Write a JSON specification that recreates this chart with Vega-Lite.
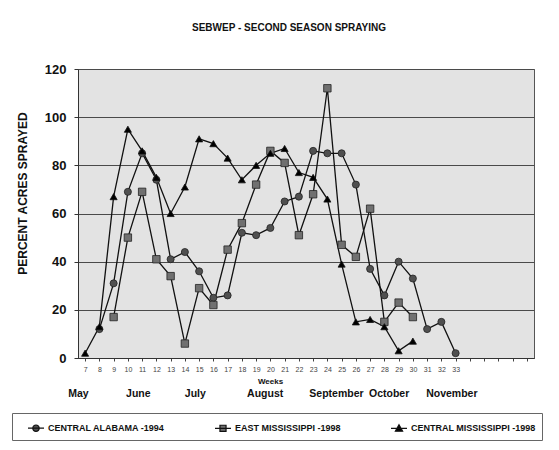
{
  "$schema": "https://vega.github.io/schema/vega-lite/v6.json",
  "autosize": "none",
  "width": 456,
  "height": 289,
  "padding": {"left": 78, "top": 69, "right": 25, "bottom": 92},
  "background": "white",
  "title": {
    "text": "SEBWEP - SECOND SEASON SPRAYING",
    "anchor": "middle",
    "dx": -17,
    "offset": 30,
    "font": "Liberation Sans",
    "fontSize": 10,
    "fontWeight": "bold",
    "color": "#111"
  },
  "config": {
    "view": {"fill": "#e3e3e3", "stroke": "#555", "strokeWidth": 1},
    "font": "Liberation Sans",
    "legend": {
      "orient": "none",
      "legendX": -66,
      "legendY": 344,
      "direction": "horizontal",
      "strokeColor": "#666",
      "fillColor": "white",
      "padding": 6,
      "labelFontSize": 9,
      "labelFontWeight": "bold",
      "labelColor": "#111",
      "labelOffset": 3,
      "columnPadding": 40,
      "symbolSize": 256,
      "symbolOffset": 9,
      "symbolStrokeWidth": 1.2,
      "symbolOpacity": 1
    }
  },
  "datasets": {
    "spray": [
      {"week": 8, "series": "CENTRAL ALABAMA -1994", "value": 12},
      {"week": 9, "series": "CENTRAL ALABAMA -1994", "value": 31},
      {"week": 10, "series": "CENTRAL ALABAMA -1994", "value": 69},
      {"week": 11, "series": "CENTRAL ALABAMA -1994", "value": 85},
      {"week": 12, "series": "CENTRAL ALABAMA -1994", "value": 74},
      {"week": 13, "series": "CENTRAL ALABAMA -1994", "value": 41},
      {"week": 14, "series": "CENTRAL ALABAMA -1994", "value": 44},
      {"week": 15, "series": "CENTRAL ALABAMA -1994", "value": 36},
      {"week": 16, "series": "CENTRAL ALABAMA -1994", "value": 25},
      {"week": 17, "series": "CENTRAL ALABAMA -1994", "value": 26},
      {"week": 18, "series": "CENTRAL ALABAMA -1994", "value": 52},
      {"week": 19, "series": "CENTRAL ALABAMA -1994", "value": 51},
      {"week": 20, "series": "CENTRAL ALABAMA -1994", "value": 54},
      {"week": 21, "series": "CENTRAL ALABAMA -1994", "value": 65},
      {"week": 22, "series": "CENTRAL ALABAMA -1994", "value": 67},
      {"week": 23, "series": "CENTRAL ALABAMA -1994", "value": 86},
      {"week": 24, "series": "CENTRAL ALABAMA -1994", "value": 85},
      {"week": 25, "series": "CENTRAL ALABAMA -1994", "value": 85},
      {"week": 26, "series": "CENTRAL ALABAMA -1994", "value": 72},
      {"week": 27, "series": "CENTRAL ALABAMA -1994", "value": 37},
      {"week": 28, "series": "CENTRAL ALABAMA -1994", "value": 26},
      {"week": 29, "series": "CENTRAL ALABAMA -1994", "value": 40},
      {"week": 30, "series": "CENTRAL ALABAMA -1994", "value": 33},
      {"week": 31, "series": "CENTRAL ALABAMA -1994", "value": 12},
      {"week": 32, "series": "CENTRAL ALABAMA -1994", "value": 15},
      {"week": 33, "series": "CENTRAL ALABAMA -1994", "value": 2},
      {"week": 9, "series": "EAST MISSISSIPPI -1998", "value": 17},
      {"week": 10, "series": "EAST MISSISSIPPI -1998", "value": 50},
      {"week": 11, "series": "EAST MISSISSIPPI -1998", "value": 69},
      {"week": 12, "series": "EAST MISSISSIPPI -1998", "value": 41},
      {"week": 13, "series": "EAST MISSISSIPPI -1998", "value": 34},
      {"week": 14, "series": "EAST MISSISSIPPI -1998", "value": 6},
      {"week": 15, "series": "EAST MISSISSIPPI -1998", "value": 29},
      {"week": 16, "series": "EAST MISSISSIPPI -1998", "value": 22},
      {"week": 17, "series": "EAST MISSISSIPPI -1998", "value": 45},
      {"week": 18, "series": "EAST MISSISSIPPI -1998", "value": 56},
      {"week": 19, "series": "EAST MISSISSIPPI -1998", "value": 72},
      {"week": 20, "series": "EAST MISSISSIPPI -1998", "value": 86},
      {"week": 21, "series": "EAST MISSISSIPPI -1998", "value": 81},
      {"week": 22, "series": "EAST MISSISSIPPI -1998", "value": 51},
      {"week": 23, "series": "EAST MISSISSIPPI -1998", "value": 68},
      {"week": 24, "series": "EAST MISSISSIPPI -1998", "value": 112},
      {"week": 25, "series": "EAST MISSISSIPPI -1998", "value": 47},
      {"week": 26, "series": "EAST MISSISSIPPI -1998", "value": 42},
      {"week": 27, "series": "EAST MISSISSIPPI -1998", "value": 62},
      {"week": 28, "series": "EAST MISSISSIPPI -1998", "value": 15},
      {"week": 29, "series": "EAST MISSISSIPPI -1998", "value": 23},
      {"week": 30, "series": "EAST MISSISSIPPI -1998", "value": 17},
      {"week": 7, "series": "CENTRAL MISSISSIPPI -1998", "value": 2},
      {"week": 8, "series": "CENTRAL MISSISSIPPI -1998", "value": 13},
      {"week": 9, "series": "CENTRAL MISSISSIPPI -1998", "value": 67},
      {"week": 10, "series": "CENTRAL MISSISSIPPI -1998", "value": 95},
      {"week": 11, "series": "CENTRAL MISSISSIPPI -1998", "value": 86},
      {"week": 12, "series": "CENTRAL MISSISSIPPI -1998", "value": 75},
      {"week": 13, "series": "CENTRAL MISSISSIPPI -1998", "value": 60},
      {"week": 14, "series": "CENTRAL MISSISSIPPI -1998", "value": 71},
      {"week": 15, "series": "CENTRAL MISSISSIPPI -1998", "value": 91},
      {"week": 16, "series": "CENTRAL MISSISSIPPI -1998", "value": 89},
      {"week": 17, "series": "CENTRAL MISSISSIPPI -1998", "value": 83},
      {"week": 18, "series": "CENTRAL MISSISSIPPI -1998", "value": 74},
      {"week": 19, "series": "CENTRAL MISSISSIPPI -1998", "value": 80},
      {"week": 20, "series": "CENTRAL MISSISSIPPI -1998", "value": 85},
      {"week": 21, "series": "CENTRAL MISSISSIPPI -1998", "value": 87},
      {"week": 22, "series": "CENTRAL MISSISSIPPI -1998", "value": 77},
      {"week": 23, "series": "CENTRAL MISSISSIPPI -1998", "value": 75},
      {"week": 24, "series": "CENTRAL MISSISSIPPI -1998", "value": 66},
      {"week": 25, "series": "CENTRAL MISSISSIPPI -1998", "value": 39},
      {"week": 26, "series": "CENTRAL MISSISSIPPI -1998", "value": 15},
      {"week": 27, "series": "CENTRAL MISSISSIPPI -1998", "value": 16},
      {"week": 28, "series": "CENTRAL MISSISSIPPI -1998", "value": 13},
      {"week": 29, "series": "CENTRAL MISSISSIPPI -1998", "value": 3},
      {"week": 30, "series": "CENTRAL MISSISSIPPI -1998", "value": 7}
    ],
    "months": [
      {"month": "May", "week": 6.5},
      {"month": "June", "week": 10.7},
      {"month": "July", "week": 14.7},
      {"month": "August", "week": 19.6},
      {"month": "September", "week": 24.6},
      {"month": "October", "week": 28.3},
      {"month": "November", "week": 32.7}
    ]
  },
  "resolve": {"axis": {"x": "independent"}},
  "layer": [
    {
      "data": {"name": "spray"},
      "mark": {"type": "line", "color": "#111", "strokeWidth": 1.3},
      "encoding": {
        "x": {
          "field": "week", "type": "quantitative",
          "scale": {"domain": [6.5, 38.5], "nice": false, "zero": false},
          "axis": {
            "orient": "bottom",
            "values": [7,8,9,10,11,12,13,14,15,16,17,18,19,20,21,22,23,24,25,26,27,28,29,30,31,32,33,34,35,36,37,38],
            "labelExpr": "datum.value <= 33 ? datum.label : ''",
            "labelFontSize": 7,
            "labelColor": "#444",
            "labelPadding": 4,
            "labelOverlap": false,
            "labelFlush": false,
            "tickSize": 3,
            "tickColor": "#444",
            "domainColor": "#333",
            "grid": false,
            "title": "Weeks",
            "titleFontSize": 8,
            "titleFontWeight": "bold",
            "titleColor": "#111",
            "titleX": 192,
            "titleY": 25,
            "titleBaseline": "alphabetic"
          }
        },
        "y": {
          "field": "value", "type": "quantitative",
          "scale": {"domain": [0, 120], "nice": false},
          "axis": {
            "values": [0, 20, 40, 60, 80, 100, 120],
            "grid": true,
            "gridColor": "#4a4a4a",
            "gridWidth": 1,
            "tickSize": 4,
            "tickColor": "#333",
            "domainColor": "#333",
            "labelFontSize": 13,
            "labelFontWeight": "bold",
            "labelColor": "#111",
            "labelPadding": 8,
            "title": "PERCENT ACRES SPRAYED",
            "titleFontSize": 12,
            "titleFontWeight": "bold",
            "titleColor": "#111",
            "titleX": -56,
            "titleY": 124,
            "titleBaseline": "middle"
          }
        },
        "detail": {"field": "series", "type": "nominal"}
      }
    },
    {
      "data": {"name": "spray"},
      "transform": [{"filter": "datum.series == 'CENTRAL ALABAMA -1994'"}],
      "mark": {"type": "point", "shape": "circle", "filled": true, "fill": "#505050", "stroke": "#222", "strokeWidth": 0.8, "opacity": 1, "size": 50},
      "encoding": {
        "x": {"field": "week", "type": "quantitative", "axis": null},
        "y": {"field": "value", "type": "quantitative"}
      }
    },
    {
      "data": {"name": "spray"},
      "transform": [{"filter": "datum.series == 'EAST MISSISSIPPI -1998'"}],
      "mark": {"type": "point", "shape": "square", "filled": true, "fill": "#707070", "stroke": "#222", "strokeWidth": 0.8, "opacity": 1, "size": 55},
      "encoding": {
        "x": {"field": "week", "type": "quantitative", "axis": null},
        "y": {"field": "value", "type": "quantitative"}
      }
    },
    {
      "data": {"name": "spray"},
      "transform": [{"filter": "datum.series == 'CENTRAL MISSISSIPPI -1998'"}],
      "mark": {"type": "point", "shape": "triangle-up", "filled": true, "fill": "#000000", "stroke": "#111", "strokeWidth": 0.8, "opacity": 1, "size": 50},
      "encoding": {
        "x": {"field": "week", "type": "quantitative", "axis": null},
        "y": {"field": "value", "type": "quantitative"}
      }
    },
    {
      "data": {"name": "spray"},
      "mark": {"type": "point", "filled": true, "opacity": 0},
      "encoding": {
        "x": {"field": "week", "type": "quantitative", "axis": null},
        "y": {"field": "value", "type": "quantitative"},
        "shape": {
          "field": "series", "type": "nominal",
          "scale": {
            "domain": ["CENTRAL ALABAMA -1994", "EAST MISSISSIPPI -1998", "CENTRAL MISSISSIPPI -1998"],
            "range": ["M-1,0H1M0.4,0A0.4,0.4,0,1,1,-0.4,0A0.4,0.4,0,1,1,0.4,0Z", "M-1,0H1M-0.38,-0.38H0.38V0.38H-0.38Z", "M-1,0H1M0,-0.45L0.45,0.35H-0.45Z"]
          },
          "legend": {"title": null}
        },
        "color": {
          "field": "series", "type": "nominal",
          "scale": {
            "domain": ["CENTRAL ALABAMA -1994", "EAST MISSISSIPPI -1998", "CENTRAL MISSISSIPPI -1998"],
            "range": ["#505050", "#707070", "#000000"]
          },
          "legend": {"title": null}
        },
        "stroke": {
          "field": "series", "type": "nominal",
          "scale": {
            "domain": ["CENTRAL ALABAMA -1994", "EAST MISSISSIPPI -1998", "CENTRAL MISSISSIPPI -1998"],
            "range": ["#111111", "#111111", "#111111"]
          },
          "legend": {"title": null}
        }
      }
    },
    {
      "data": {"name": "months"},
      "mark": {"type": "point", "opacity": 0},
      "encoding": {
        "x": {
          "field": "week", "type": "quantitative",
          "axis": {
            "orient": "bottom",
            "values": [6.5, 10.7, 14.7, 19.6, 24.6, 28.3, 32.7],
            "labelExpr": "datum.value < 8 ? 'May' : datum.value < 12 ? 'June' : datum.value < 16 ? 'July' : datum.value < 22 ? 'August' : datum.value < 26 ? 'September' : datum.value < 30 ? 'October' : 'November'",
            "labelFontSize": 10.5,
            "labelFontWeight": "bold",
            "labelColor": "#111",
            "labelPadding": 30,
            "labelOverlap": false,
            "labelFlush": false,
            "ticks": false,
            "domain": false,
            "grid": false,
            "title": null
          }
        }
      }
    }
  ]
}
